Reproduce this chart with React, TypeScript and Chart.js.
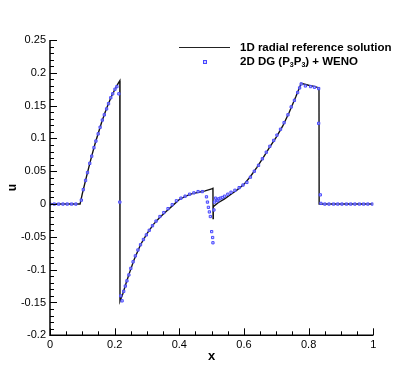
import React, { useEffect, useRef } from "react";
import { Chart, registerables } from "chart.js";

Chart.register(...registerables);

// 1D radial reference solution (x, u)
const refX = [
  0, 0.093, 0.1, 0.11, 0.12, 0.13, 0.14, 0.15, 0.16, 0.17, 0.18, 0.19, 0.2, 0.21, 0.216,
  0.2165, 0.225, 0.235, 0.245, 0.26, 0.28, 0.3, 0.32, 0.34, 0.36, 0.38, 0.4, 0.42, 0.44,
  0.46, 0.48, 0.5, 0.504, 0.5045, 0.505, 0.52, 0.54, 0.56, 0.58, 0.6, 0.62, 0.64, 0.66,
  0.68, 0.7, 0.72, 0.74, 0.76, 0.777, 0.8, 0.82, 0.832, 0.8325, 1,
];
const refU = [
  0, 0, 0.016, 0.036, 0.056, 0.075, 0.093, 0.109, 0.125, 0.139, 0.152, 0.164, 0.174, 0.183, 0.188,
  -0.148, -0.137, -0.121, -0.106, -0.085, -0.062, -0.045, -0.031, -0.02, -0.011, -0.002, 0.007, 0.012, 0.016,
  0.018, 0.02, 0.023, 0.024, -0.022, -0.004, 0.002, 0.008, 0.015, 0.022, 0.03, 0.042, 0.056, 0.071,
  0.087, 0.102, 0.119, 0.14, 0.163, 0.184, 0.181, 0.179, 0.177, 0, 0,
];

// 2D DG (P3P3) + WENO samples (x, u)
const dgX = [
  0, 0.0133, 0.0267, 0.04, 0.0533, 0.0667, 0.08,
  0.097, 0.103, 0.11, 0.116, 0.123, 0.129, 0.136, 0.142, 0.149, 0.155, 0.162, 0.168, 0.175, 0.181,
  0.188, 0.194, 0.201, 0.207, 0.213, 0.216,
  0.219, 0.223, 0.228, 0.233, 0.238, 0.244, 0.25, 0.257, 0.264, 0.272, 0.28, 0.289, 0.298, 0.307,
  0.317, 0.328, 0.34, 0.352, 0.365, 0.378, 0.391, 0.405, 0.418, 0.432, 0.445, 0.458, 0.471,
  0.484, 0.487, 0.49, 0.493, 0.496, 0.5, 0.503, 0.504, 0.507, 0.509, 0.512, 0.516, 0.519, 0.522,
  0.527, 0.533, 0.54, 0.55, 0.56, 0.572, 0.585, 0.597, 0.609,
  0.62, 0.632, 0.645, 0.657, 0.669, 0.68, 0.692, 0.702, 0.713, 0.724, 0.736, 0.746, 0.756, 0.766,
  0.772, 0.777, 0.79, 0.806, 0.818, 0.831, 0.831, 0.836, 0.838,
  0.85, 0.863, 0.877, 0.89, 0.903, 0.917, 0.93, 0.943, 0.957, 0.97, 0.983, 0.997,
];
const dgU = [
  0, 0, 0, 0, 0, 0, 0,
  0.006, 0.022, 0.036, 0.048, 0.062, 0.073, 0.086, 0.096, 0.107, 0.117, 0.128, 0.136, 0.145, 0.153,
  0.162, 0.168, 0.175, 0.179, 0.168, 0.003,
  -0.14, -0.1475, -0.133, -0.125, -0.117, -0.108, -0.098, -0.088, -0.079, -0.07, -0.062, -0.054, -0.047, -0.04,
  -0.033, -0.026, -0.019, -0.013, -0.007, -0.001, 0.005, 0.009, 0.012, 0.015, 0.017, 0.019, 0.019,
  0.011, 0.003, -0.005, -0.012, -0.019, -0.042, -0.051, -0.059, -0.009, 0.003, 0.009, 0.006, 0.005, 0.008,
  0.009, 0.01, 0.012, 0.015, 0.018, 0.021, 0.025, 0.029, 0.033,
  0.041, 0.05, 0.059, 0.069, 0.079, 0.088, 0.097, 0.105, 0.114, 0.124, 0.136, 0.148, 0.158, 0.17,
  0.177, 0.183, 0.18, 0.179, 0.178, 0.176, 0.123, 0.014, 0.001,
  0, 0, 0, 0, 0, 0, 0, 0, 0, 0, 0, 0,
];

const xTicks = [0, 0.2, 0.4, 0.6, 0.8, 1];
const yTicks = [-0.2, -0.15, -0.1, -0.05, 0, 0.05, 0.1, 0.15, 0.2, 0.25];

const FONT = "Arial, 'Liberation Sans', sans-serif";

const axisPlugin = {
  id: "tecplotAxes",
  afterDraw(chart: any) {
    const { ctx, chartArea, scales } = chart;
    const xs = scales.x;
    const ys = scales.y;
    ctx.save();
    ctx.strokeStyle = "#000";
    ctx.lineWidth = 1.5;
    ctx.beginPath();
    ctx.moveTo(chartArea.left, chartArea.top);
    ctx.lineTo(chartArea.left, chartArea.bottom);
    ctx.lineTo(chartArea.right, chartArea.bottom);
    ctx.stroke();
    ctx.lineWidth = 1;
    ctx.beginPath();
    // y ticks: major 0.05, minor 0.01
    for (let i = -20; i <= 25; i++) {
      const v = i / 100;
      const py = Math.round(ys.getPixelForValue(v)) + 0.5;
      const len = i % 5 === 0 ? 7 : 4;
      ctx.moveTo(chartArea.left, py);
      ctx.lineTo(chartArea.left + len, py);
    }
    // x ticks: major 0.2, minor 0.05
    for (let i = 0; i <= 20; i++) {
      const v = i / 20;
      const px = Math.round(xs.getPixelForValue(v)) + 0.5;
      const len = i % 4 === 0 ? 7 : 4;
      ctx.moveTo(px, chartArea.bottom);
      ctx.lineTo(px, chartArea.bottom - len);
    }
    ctx.stroke();
    ctx.restore();
  },
};

export default function App() {
  const ref = useRef<HTMLCanvasElement | null>(null);
  useEffect(() => {
    if (!ref.current) return;
    const refData = refX.map((x, i) => ({ x, y: refU[i] }));
    const dgData = dgX.map((x, i) => ({ x, y: dgU[i] }));
    const chart = new Chart(ref.current, {
      type: "scatter",
      data: {
        datasets: [
          {
            label: "1D radial reference solution",
            data: refData,
            showLine: true,
            borderColor: "#111",
            borderWidth: 1.4,
            pointRadius: 0,
            tension: 0,
            order: 2,
          },
          {
            label: "2D DG (P3P3) + WENO",
            data: dgData,
            showLine: false,
            pointStyle: "rect",
            pointRadius: 1.6,
            borderWidth: 1,
            borderColor: "#4848ff",
            backgroundColor: "rgba(190,190,255,0.7)",
            order: 1,
          },
        ],
      },
      options: {
        animation: false,
        responsive: false,
        maintainAspectRatio: false,
        layout: { padding: { left: 0, top: 40, right: 45.7, bottom: 0 } },
        plugins: { legend: { display: false }, tooltip: { enabled: false } },
        scales: {
          x: {
            type: "linear",
            min: 0,
            max: 1,
            afterFit: (s: any) => {
              s.height = 35.7;
            },
            afterBuildTicks: (s: any) => {
              s.ticks = xTicks.map((v) => ({ value: v }));
            },
            grid: { display: false, drawTicks: false },
            border: { display: false },
            ticks: {
              padding: 3,
              color: "#000",
              font: { family: FONT, size: 11 },
              maxRotation: 0,
              callback: (v: any) => String(Math.round(v * 10) / 10),
            },
            title: {
              display: true,
              text: "x",
              color: "#000",
              font: { family: FONT, size: 13, weight: "bold" },
              padding: { top: 0, bottom: 7 },
            },
          },
          y: {
            type: "linear",
            min: -0.2,
            max: 0.25,
            afterFit: (s: any) => {
              s.width = 50;
            },
            afterBuildTicks: (s: any) => {
              s.ticks = yTicks.map((v) => ({ value: v }));
            },
            grid: { display: false, drawTicks: false },
            border: { display: false },
            ticks: {
              padding: 4,
              color: "#000",
              font: { family: FONT, size: 11 },
              callback: (v: any) => String(Math.round(v * 100) / 100),
            },
            title: {
              display: true,
              text: "u",
              color: "#000",
              font: { family: FONT, size: 12, weight: "bold" },
              padding: { top: 5, bottom: 0 },
            },
          },
        },
      },
      plugins: [axisPlugin],
    });
    return () => chart.destroy();
  }, []);

  const textStyle: React.CSSProperties = {
    position: "absolute",
    left: 240,
    fontFamily: FONT,
    fontWeight: "bold",
    fontSize: 11.5,
    lineHeight: "14px",
    whiteSpace: "nowrap",
    color: "#000",
  };

  return (
    <div style={{ position: "fixed", left: 0, top: 0, width: 419, height: 371, background: "#fff" }}>
      <canvas ref={ref} width={419} height={371} style={{ width: 419, height: 371, display: "block" }} />
      <div style={{ position: "absolute", left: 179, top: 46.5, width: 51, height: 1.5, background: "#222" }} />
      <div
        style={{
          position: "absolute",
          left: 202.5,
          top: 59.5,
          width: 2,
          height: 2,
          border: "1px solid #4848ff",
          background: "rgba(190,190,255,0.7)",
        }}
      />
      <div style={{ ...textStyle, top: 40 }}>1D radial reference solution</div>
      <div style={{ ...textStyle, top: 54 }}>
        2D DG (P<sub style={{ fontSize: 7, verticalAlign: "-2px", lineHeight: 0 }}>3</sub>P
        <sub style={{ fontSize: 7, verticalAlign: "-2px", lineHeight: 0 }}>3</sub>) + WENO
      </div>
    </div>
  );
}
